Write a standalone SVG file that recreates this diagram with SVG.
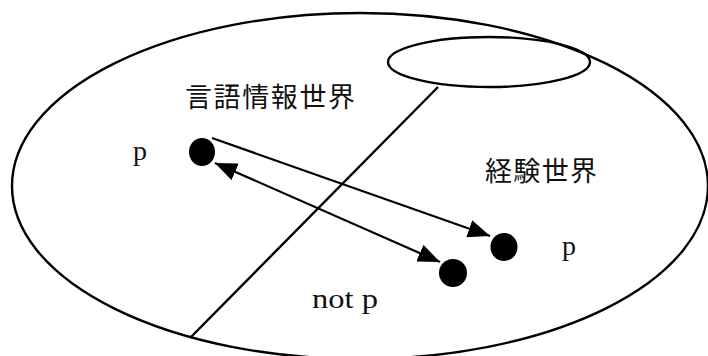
<svg xmlns="http://www.w3.org/2000/svg" width="708" height="356" viewBox="0 0 708 356">
<style>
.shape{fill:none;stroke:#000;stroke-width:2.4}
.conn{fill:none;stroke:#000;stroke-width:2.2}
.dot{fill:#000}
.jp{font-family:"Noto Sans CJK JP","Noto Sans CJK SC",sans-serif;font-size:27px;fill:#111}
.lat{font-family:"Liberation Serif",serif;font-size:28px;fill:#111}
</style>
<defs>
<marker id="ah" viewBox="0 0 22 18" refX="22" refY="9" markerWidth="22" markerHeight="18" markerUnits="userSpaceOnUse" orient="auto-start-reverse">
<path d="M0,0 L22,9 L0,18 Z" fill="#000"/>
</marker>
</defs>
<g id="experience-world">
<ellipse class="shape" cx="360" cy="186" rx="348" ry="173"/>
<text class="jp" x="485" y="181" textLength="112">経験世界</text>
</g>
<g id="language-world">
<ellipse class="shape" cx="489" cy="62" rx="101" ry="25"/>
<line class="shape" x1="438" y1="87" x2="190" y2="338"/>
<text class="jp" x="185" y="107" textLength="170">言語情報世界</text>
</g>
<g id="p-left">
<ellipse class="dot" cx="202" cy="152" rx="13" ry="14"/>
<text class="lat" x="133" y="160">p</text>
</g>
<g id="p-right">
<ellipse class="dot" cx="504" cy="247" rx="13.5" ry="14"/>
<text class="lat" x="562" y="255">p</text>
</g>
<g id="not-p">
<ellipse class="dot" cx="453" cy="273" rx="14" ry="14"/>
<text class="lat" x="312" y="308" textLength="66" lengthAdjust="spacingAndGlyphs">not p</text>
</g>
<g id="connectors">
<line class="conn" x1="212" y1="138" x2="490" y2="236" marker-end="url(#ah)"/>
<line class="conn" x1="215" y1="163" x2="440" y2="262" marker-start="url(#ah)" marker-end="url(#ah)"/>
</g>
</svg>
